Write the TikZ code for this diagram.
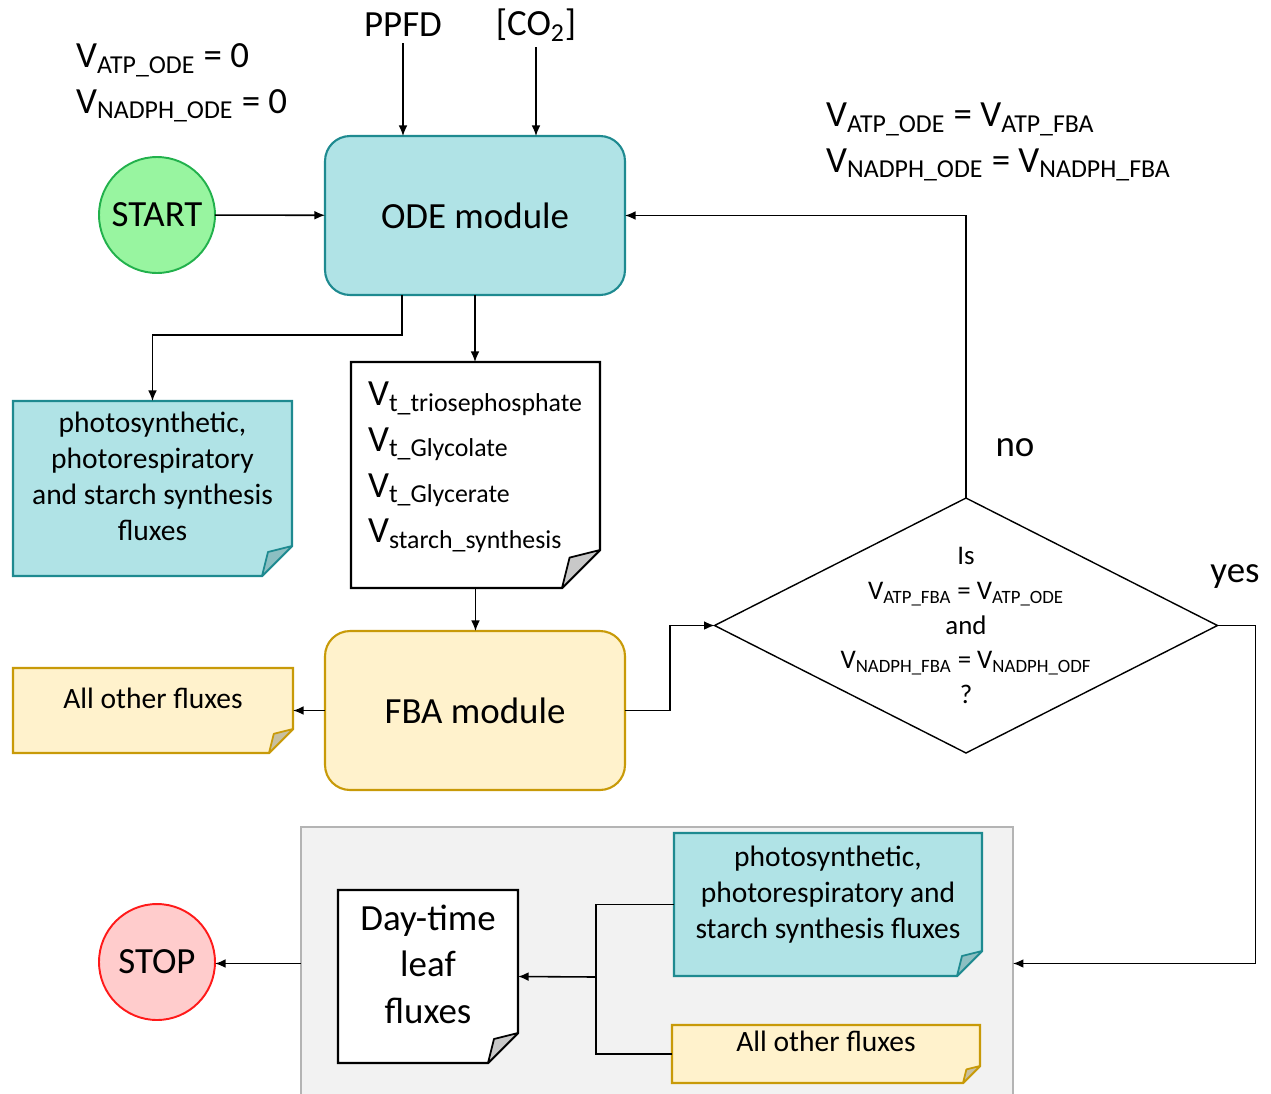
\documentclass[tikz,border=0pt]{standalone}
\usepackage{fontspec}
\setmainfont{Carlito}
\usetikzlibrary{arrows.meta,calc,positioning,shapes.geometric}

\definecolor{blufill}{HTML}{B0E3E6}
\definecolor{bluline}{HTML}{1E8A90}
\definecolor{blufold}{HTML}{8CBFC2}
\definecolor{yelfill}{HTML}{FFF2CC}
\definecolor{yelline}{HTML}{C89A08}
\definecolor{yelfold}{HTML}{C8C0A0}
\definecolor{whtfill}{HTML}{FFFFFF}
\definecolor{whtline}{HTML}{000000}
\definecolor{whtfold}{HTML}{C8C8C8}
\definecolor{gofill}{HTML}{98F5A0}
\definecolor{goline}{HTML}{22B14C}
\definecolor{stopfill}{HTML}{FFCCCC}
\definecolor{stopline}{HTML}{FF1A1A}
\definecolor{grpfill}{HTML}{F2F2F2}
\definecolor{grpline}{HTML}{B4B4B4}

\newcommand{\vsub}[1]{\textsubscript{#1}}
% note with a turned-down corner: name, centre, width, height, fold, colour, node options, text
\newcommand{\foldnote}[8]{%
  \filldraw[fill=#6fill, draw=#6line, line width=1.2pt] (#2) ++(-#3/2,-#4/2) -- ++(#3,0) -- ++(0,#4-#5) -- ++(-#5,#5) -- ++(-#3+#5,0) -- cycle;
  \filldraw[fill=#6fold, draw=#6line, line width=1pt, line join=round] (#2) ++(#3/2-#5,#4/2) -- ++(#5,-#5) -- ++(-0.8*#5,0.2*#5) -- cycle;
  \node[notetext, minimum width=#3*0.02cm, minimum height=#4*0.02cm, #7] (#1) at (#2) {#8};
}

\begin{document}
\begin{tikzpicture}[x=0.02cm, y=-0.02cm,
  arr/.style={-{Latex[length=6pt,width=5pt]}, line width=0.9pt},
  bigtext/.style={font=\fontsize{21}{26}\selectfont},
  notetext/.style={font=\fontsize{16.8}{20.4}\selectfont, align=center, inner sep=2pt, outer sep=0pt, text depth=0.5cm},
  module/.style={rounded corners=0.5cm, minimum width=6cm, minimum height=3.18cm, line width=1.2pt, outer sep=0pt, bigtext},
  terminal/.style={circle, minimum size=2.32cm, line width=1.1pt, outer sep=0pt, bigtext},
  decision/.style={diamond, draw, line width=0.8pt, minimum width=10.06cm, minimum height=5.1cm, inner sep=0pt, outer sep=0pt},
  decisiontext/.style={font=\fontsize{15.3}{19.8}\selectfont, align=center},
  groupbox/.style={fill=grpfill, draw=grpline, line width=1pt, minimum width=14.24cm, minimum height=5.46cm, outer sep=0pt}]

\useasboundingbox (0,0) rectangle (1271,1093);

% --- start and ODE module ---
\node[terminal, fill=gofill, draw=goline] (start) at (157,215) {START};
\node[module, fill=blufill, draw=bluline] (ode) at (475,215.5) {ODE module};
\node[bigtext] (ppfd) at (403,25) {PPFD};
\node[bigtext] (co2) at (536,25) {[CO\vsub{2}]};
\node[bigtext, anchor=west, align=left] (init) at (70,83) {V\vsub{ATP\_ODE} = 0\\V\vsub{NADPH\_ODE} = 0};
\node[bigtext, anchor=west, align=left] (update) at (820,142) {V\vsub{ATP\_ODE} = V\vsub{ATP\_FBA}\\V\vsub{NADPH\_ODE} = V\vsub{NADPH\_FBA}};

% --- ODE outputs ---
\foldnote{odeflux}{152.5,488.5}{279}{175}{30}{blu}{}{photosynthetic,\\photorespiratory\\and starch synthesis\\fluxes}
\foldnote{transport}{475.5,475}{249}{226}{38}{wht}{align=left, font=\fontsize{21}{26}\selectfont}{V\vsub{t\_triosephosphate}\\V\vsub{t\_Glycolate}\\V\vsub{t\_Glycerate}\\V\vsub{starch\_synthesis}}

% --- FBA module and check ---
\node[module, fill=yelfill, draw=yelline] (fba) at (475,710.5) {FBA module};
\foldnote{fbaflux}{153,710.5}{280}{85}{24}{yel}{}{All other fluxes}
\node[decision, label={[decisiontext]center:{Is\\V\vsub{ATP\_FBA} = V\vsub{ATP\_ODE}\\and\\V\vsub{NADPH\_FBA} = V\vsub{NADPH\_ODF}\\?}}] (check) at (966,625.5) {};
\node[bigtext] (no) at (1015,448) {no};
\node[bigtext] (yes) at (1235,577) {yes};

% --- results ---
\node[groupbox] (group) at (657,963.5) {};
\node[terminal, fill=stopfill, draw=stopline] (stop) at (157,962) {STOP};
\foldnote{daytime}{428,976.5}{180}{173}{30}{wht}{font=\fontsize{21}{26.4}\selectfont}{Day-time\\leaf\\fluxes}
\foldnote{photoflux}{828,904.5}{308}{143}{25}{blu}{}{photosynthetic,\\photorespiratory and\\starch synthesis fluxes}
\foldnote{otherflux}{826,1054}{308}{58}{17}{yel}{}{All other fluxes}
\coordinate (merge) at (596,977);

% --- connectors ---
\draw[arr] (start) -- (ode);
\draw[arr] (ppfd) -- (ppfd |- ode.north);
\draw[arr] (co2) -- (co2 |- ode.north);
\draw[arr] ([xshift=-1.46cm]ode.south) -- ++(0,40) -| (odeflux.north);
\draw[arr] (ode) -- (ode |- transport.north);
\draw[arr] (transport) -- (transport |- fba.north);
\draw[arr] (fba) -- (fbaflux);
\draw[arr] (fba.east) -- ++(45,0) |- (check.west);
\draw[arr] (check.north) |- (ode.east);
\draw[arr] (check.east) -- ++(38,0) |- (group.east);
\draw[arr] (group.west) -- (group.west -| stop.east);
\draw[line width=0.9pt] (photoflux.west) -| (merge);
\draw[line width=0.9pt] (otherflux.west) -| (merge);
\draw[arr] (merge) -- (daytime.east);

\end{tikzpicture}
\end{document}
